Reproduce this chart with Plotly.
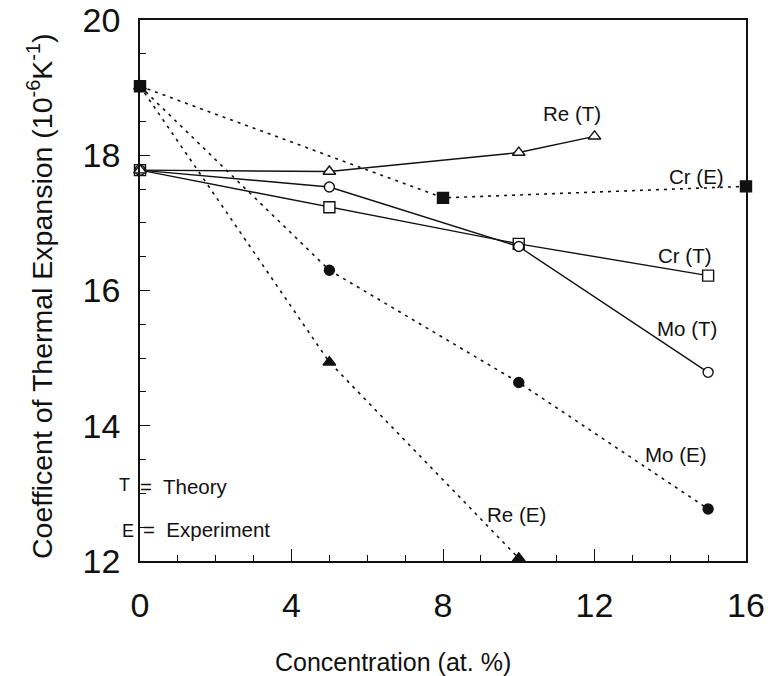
import plotly.graph_objects as go

# ---- data ----
re_t_x = [0, 5, 10, 12]
re_t_y = [17.78, 17.76, 18.04, 18.28]

cr_t_x = [0, 5, 10, 15]
cr_t_y = [17.78, 17.23, 16.69, 16.22]

mo_t_x = [0, 5, 10, 15]
mo_t_y = [17.78, 17.53, 16.65, 14.79]

cr_e_x = [0, 8, 16]
cr_e_y = [19.02, 17.37, 17.54]

mo_e_x = [0, 5, 10, 15]
mo_e_y = [19.02, 16.30, 14.64, 12.77]

re_e_x = [0, 5, 10]
re_e_y = [19.02, 14.94, 12.04]

label_text = ["Re (T)", "Cr (E)", "Cr (T)", "Mo (T)", "Mo (E)", "Re (E)"]
label_x = [11.4, 14.7, 14.4, 14.45, 14.15, 9.95]
label_y = [18.62, 17.68, 16.52, 15.44, 13.57, 12.69]

x_ticks = [0, 4, 8, 12, 16]
y_ticks = [12, 14, 16, 18, 20]

FONT = "Liberation Sans, Arial, Helvetica, sans-serif"
BLACK = "#111111"

# plot area on screen: x 140..746, y 20..561
PX0, PX1, PY0, PY1 = 140, 746, 20, 561
PW, PH = PX1 - PX0, PY1 - PY0

fig = go.Figure()

def add(x, y, symbol, filled, dash):
    fig.add_trace(go.Scatter(
        x=x, y=y, mode="lines+markers",
        line=dict(color=BLACK, width=1.4 if dash == "solid" else 1.6, dash=dash),
        marker=dict(symbol=symbol, size=10 if symbol == "circle" else 11,
                    color=BLACK if filled else "white",
                    line=dict(color=BLACK, width=1.4)),
        cliponaxis=False, showlegend=False))

dot = "3px,5px"
add(cr_e_x, cr_e_y, "square", True, dot)
add(mo_e_x, mo_e_y, "circle", True, dot)
add(re_e_x, re_e_y, "triangle-up", True, dot)
add(cr_t_x, cr_t_y, "square", False, "solid")
add(mo_t_x, mo_t_y, "circle", False, "solid")
add(re_t_x, re_t_y, "triangle-up", False, "solid")

for t, x, y in zip(label_text, label_x, label_y):
    fig.add_annotation(x=x, y=y, text=t, showarrow=False,
                       xanchor="center", yanchor="middle",
                       font=dict(family=FONT, size=20.5, color=BLACK))

def px(x):
    return (x - PX0) / PW

def py(y):
    return (PY1 - y) / PH

def paper_text(x, y, text, size, xanchor="center", angle=0):
    fig.add_annotation(xref="paper", yref="paper", x=px(x), y=py(y), text=text,
                       showarrow=False, xanchor=xanchor, yanchor="middle",
                       textangle=angle, font=dict(family=FONT, size=size, color=BLACK))

# key
paper_text(124, 485, "T", 18)
paper_text(128, 531, "E", 18)
paper_text(138, 486, "=  Theory", 20.5, xanchor="left")
paper_text(141, 529, "=  Experiment", 20.5, xanchor="left")

# axis titles
paper_text(393, 662, "Concentration (at. %)", 25)
paper_text(40, 296, "Coefficent of Thermal Expansion (10<sup>-6</sup>K<sup>-1</sup>)", 28.5, angle=-90)

fig.update_xaxes(range=[0, 16], tickvals=x_ticks, ticktext=[str(v) for v in x_ticks],
                 ticks="inside", ticklen=12, tickwidth=1.3, tickcolor=BLACK,
                 minor=dict(dtick=1, ticks="inside", ticklen=6, tickwidth=1.2, tickcolor=BLACK),
                 showline=True, linecolor=BLACK, linewidth=1.6, mirror=True,
                 showgrid=False, zeroline=False, ticklabelstandoff=13, automargin=False,
                 tickfont=dict(family=FONT, size=34, color=BLACK))
fig.update_yaxes(range=[12, 20], tickvals=y_ticks, ticktext=[str(v) for v in y_ticks],
                 ticks="inside", ticklen=10, tickwidth=1.3, tickcolor=BLACK,
                 minor=dict(dtick=0.5, ticks="inside", ticklen=6, tickwidth=1.2, tickcolor=BLACK),
                 showline=True, linecolor=BLACK, linewidth=1.6, mirror=True,
                 showgrid=False, zeroline=False, ticklabelstandoff=11, automargin=False,
                 tickfont=dict(family=FONT, size=34, color=BLACK))

fig.update_layout(width=768, height=676,
                  margin=dict(l=PX0, r=768 - PX1, t=PY0, b=676 - PY1, autoexpand=False),
                  plot_bgcolor="white", paper_bgcolor="white",
                  font=dict(family=FONT, color=BLACK))

fig.write_html("out.html", config={"displayModeBar": False},
               post_script="document.body.style.margin='0';")
